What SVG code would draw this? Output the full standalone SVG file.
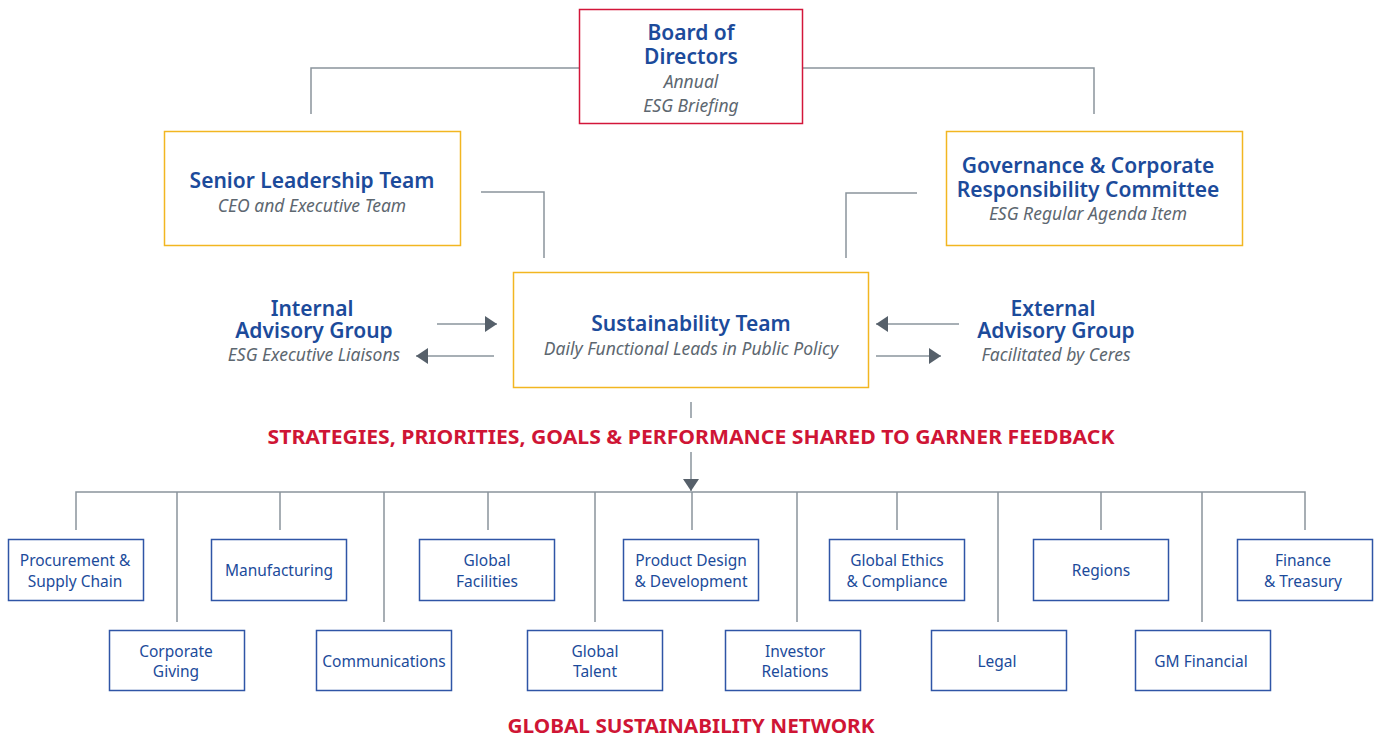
<svg xmlns="http://www.w3.org/2000/svg" width="1375" height="738" viewBox="0 0 1375 738">
<style>
.bg{fill:#ffffff}
.red{fill:#fff;stroke:#d3163a;stroke-width:1.5}
.yel{fill:#fff;stroke:#f2b621;stroke-width:1.5}
.blu{fill:#fff;stroke:#2f55a6;stroke-width:1.5}
.t{font-family:"Noto Sans","Open Sans",sans-serif;fill:#1c4b9b;text-anchor:middle}
.h{font-weight:600;font-size:21px}
.s{font-style:italic;font-size:17.5px;fill:#5d6770}
.n{font-size:15.5px}
.r{font-family:"Noto Sans","Open Sans",sans-serif;fill:#cf1535;font-weight:700;font-size:19px;text-anchor:middle}
.ln{fill:none;stroke:#8a949c;stroke-width:1.5}
</style>
<defs>
<marker id="arr" viewBox="0 0 12 16" refX="12" refY="8" markerWidth="12" markerHeight="16" markerUnits="userSpaceOnUse" orient="auto"><path d="M0,0 L12,8 L0,16 z" fill="#56606a"/></marker>
</defs>
<rect class="bg" x="0" y="0" width="1375" height="738"/>
<g id="connectors">
<path class="ln" d="M311,114 V68 H579 M803,68 H1094 V114"/>
<path class="ln" d="M481,192 H544 V258"/>
<path class="ln" d="M917,193 H846 V258"/>
<line class="ln" x1="437" y1="324" x2="497" y2="324" marker-end="url(#arr)"/>
<line class="ln" x1="494" y1="356" x2="416" y2="356" marker-end="url(#arr)"/>
<line class="ln" x1="959" y1="324" x2="876" y2="324" marker-end="url(#arr)"/>
<line class="ln" x1="876" y1="356" x2="941" y2="356" marker-end="url(#arr)"/>
<line class="ln" x1="691" y1="402" x2="691" y2="418"/>
<line class="ln" x1="691" y1="452" x2="691" y2="491" marker-end="url(#arr)"/>
<path class="ln" d="M76,530 V492 H1305 V530"/>
<path class="ln" d="M177,492 V622 M280,492 V530 M384,492 V622 M488,492 V530 M595,492 V622 M692,492 V530 M797,492 V622 M897,492 V530 M998,492 V622 M1101,492 V530 M1202,492 V622"/>
</g>
<g id="board">
<rect class="red" x="579.5" y="9.5" width="223" height="114"/>
<text class="t h"><tspan x="691" y="40">Board of</tspan><tspan x="691" y="64">Directors</tspan></text>
<text class="t s"><tspan x="691" y="88">Annual</tspan><tspan x="691" y="112">ESG Briefing</tspan></text>
</g>
<g id="senior">
<rect class="yel" x="164.5" y="131.5" width="296" height="114"/>
<text class="t h" x="312" y="188">Senior Leadership Team</text>
<text class="t s" x="312" y="212">CEO and Executive Team</text>
</g>
<g id="governance">
<rect class="yel" x="946.5" y="131.5" width="296" height="114"/>
<text class="t h"><tspan x="1088" y="173">Governance &amp; Corporate</tspan><tspan x="1088" y="197">Responsibility Committee</tspan></text>
<text class="t s" x="1088" y="220">ESG Regular Agenda Item</text>
</g>
<g id="sustainability">
<rect class="yel" x="513.5" y="272.5" width="355" height="115"/>
<text class="t h" x="691" y="331">Sustainability Team</text>
<text class="t s" x="691" y="355">Daily Functional Leads in Public Policy</text>
</g>
<g id="internal">
<text class="t h"><tspan x="312" y="316">Internal</tspan><tspan x="314" y="338">Advisory Group</tspan></text>
<text class="t s" x="314" y="361">ESG Executive Liaisons</text>
</g>
<g id="external">
<text class="t h"><tspan x="1053" y="316">External</tspan><tspan x="1056" y="338">Advisory Group</tspan></text>
<text class="t s" x="1056" y="361">Facilitated by Ceres</text>
</g>
<g id="label-strategies">
<text class="r" x="691" y="444" textLength="847" lengthAdjust="spacingAndGlyphs">STRATEGIES, PRIORITIES, GOALS &amp; PERFORMANCE SHARED TO GARNER FEEDBACK</text>
</g>
<g id="procurement"><rect class="blu" x="8.5" y="539.5" width="135" height="61"/><text class="t n"><tspan x="75" y="566">Procurement &amp;</tspan><tspan x="75" y="587">Supply Chain</tspan></text></g>
<g id="manufacturing"><rect class="blu" x="211.5" y="539.5" width="135" height="61"/><text class="t n" x="279" y="576">Manufacturing</text></g>
<g id="facilities"><rect class="blu" x="419.5" y="539.5" width="135" height="61"/><text class="t n"><tspan x="487" y="566">Global</tspan><tspan x="487" y="587">Facilities</tspan></text></g>
<g id="product"><rect class="blu" x="623.5" y="539.5" width="135" height="61"/><text class="t n"><tspan x="691" y="566">Product Design</tspan><tspan x="691" y="587">&amp; Development</tspan></text></g>
<g id="ethics"><rect class="blu" x="829.5" y="539.5" width="135" height="61"/><text class="t n"><tspan x="897" y="566">Global Ethics</tspan><tspan x="897" y="587">&amp; Compliance</tspan></text></g>
<g id="regions"><rect class="blu" x="1033.5" y="539.5" width="135" height="61"/><text class="t n" x="1101" y="576">Regions</text></g>
<g id="finance"><rect class="blu" x="1237.5" y="539.5" width="135" height="61"/><text class="t n"><tspan x="1303" y="566">Finance</tspan><tspan x="1303" y="587">&amp; Treasury</tspan></text></g>
<g id="giving"><rect class="blu" x="109.5" y="630.5" width="135" height="60"/><text class="t n"><tspan x="176" y="657">Corporate</tspan><tspan x="176" y="677">Giving</tspan></text></g>
<g id="communications"><rect class="blu" x="316.5" y="630.5" width="135" height="60"/><text class="t n" x="384" y="667">Communications</text></g>
<g id="talent"><rect class="blu" x="527.5" y="630.5" width="135" height="60"/><text class="t n"><tspan x="595" y="657">Global</tspan><tspan x="595" y="677">Talent</tspan></text></g>
<g id="investor"><rect class="blu" x="725.5" y="630.5" width="135" height="60"/><text class="t n"><tspan x="795" y="657">Investor</tspan><tspan x="795" y="677">Relations</tspan></text></g>
<g id="legal"><rect class="blu" x="931.5" y="630.5" width="135" height="60"/><text class="t n" x="997" y="667">Legal</text></g>
<g id="gmfinancial"><rect class="blu" x="1135.5" y="630.5" width="135" height="60"/><text class="t n" x="1201" y="667">GM Financial</text></g>
<g id="label-network">
<text class="r" x="691" y="733" textLength="367" lengthAdjust="spacingAndGlyphs">GLOBAL SUSTAINABILITY NETWORK</text>
</g>
</svg>
